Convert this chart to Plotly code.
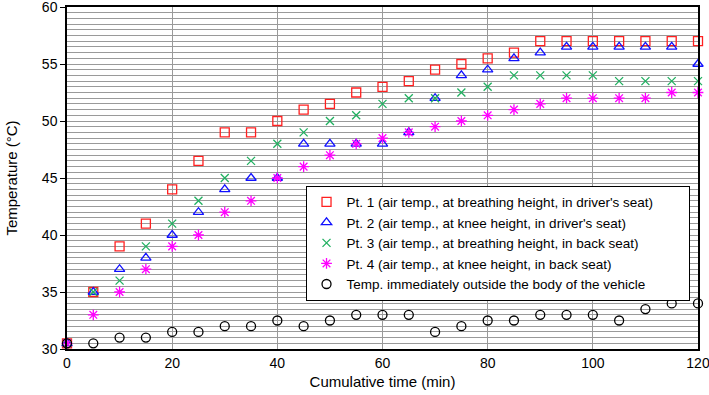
import plotly.graph_objects as go

time_min = [0, 5, 10, 15, 20, 25, 30, 35, 40, 45, 50, 55, 60, 65, 70, 75, 80, 85, 90, 95, 100, 105, 110, 115, 120]

pt1 = [30.5, 35, 39, 41, 44, 46.5, 49, 49, 50, 51, 51.5, 52.5, 53, 53.5, 54.5, 55, 55.5, 56, 57, 57, 57, 57, 57, 57, 57]
pt2 = [30.5, 35, 37, 38, 40, 42, 44, 45, 45, 48, 48, 48, 48, 49, 52, 54, 54.5, 55.5, 56, 56.5, 56.5, 56.5, 56.5, 56.5, 55]
pt3 = [30.5, 35, 36, 39, 41, 43, 45, 46.5, 48, 49, 50, 50.5, 51.5, 52, 52, 52.5, 53, 54, 54, 54, 54, 53.5, 53.5, 53.5, 53.5]
pt4 = [30.5, 33, 35, 37, 39, 40, 42, 43, 45, 46, 47, 48, 48.5, 49, 49.5, 50, 50.5, 51, 51.5, 52, 52, 52, 52, 52.5, 52.5]
outside = [30.5, 30.5, 31, 31, 31.5, 31.5, 32, 32, 32.5, 32, 32.5, 33, 33, 33, 31.5, 32, 32.5, 32.5, 33, 33, 33, 32.5, 33.5, 34, 34]

names = [
    "Pt. 1 (air temp., at breathing height, in driver's seat)" + "\u00a0" * 8,
    "Pt. 2 (air temp., at knee height, in driver's seat)",
    "Pt. 3 (air temp., at breathing height, in back seat)",
    "Pt. 4 (air temp., at knee height, in back seat)",
    "Temp. immediately outside the body of the vehicle",
]

x_ticks = [0, 20, 40, 60, 80, 100, 120]
y_ticks = [30, 35, 40, 45, 50, 55, 60]

series = [pt1, pt2, pt3, pt4, outside]
symbols = ["square-open", "triangle-up-open", "x-thin-open", "asterisk-open", "circle-open"]
colors = ["#FF2020", "#1010FF", "#20B060", "#FF00FF", "#000000"]
sizes = [9, 9, 8, 9, 9]

fig = go.Figure()
for vals, nm, sym, col, sz in zip(series, names, symbols, colors, sizes):
    fig.add_trace(go.Scatter(
        x=time_min, y=vals, mode="markers", name=nm,
        marker=dict(symbol=sym, size=sz, color=col, line=dict(color=col, width=1.3)),
        cliponaxis=False,
    ))

font = "Liberation Sans, Arial, sans-serif"
fig.update_layout(
    width=709, height=395,
    margin=dict(l=67, r=11, t=7, b=46, autoexpand=False),
    paper_bgcolor="white", plot_bgcolor="white",
    font=dict(family=font, size=14, color="black"),
    showlegend=True,
    legend=dict(
        x=0.378, y=0.478, xanchor="left", yanchor="top",
        bordercolor="black", borderwidth=1, bgcolor="white",
        font=dict(size=13.5, family=font),
        itemwidth=30, tracegroupgap=0,
    ),
    xaxis=dict(
        range=[0, 120], tickvals=x_ticks, ticktext=[str(v) for v in x_ticks],
        showgrid=True, gridcolor="#9a9a9a", gridwidth=1.4,
        showline=True, linecolor="black", linewidth=1.5, mirror=True,
        ticks="", zeroline=False, automargin=False, ticklabeloverflow="allow",
        title=dict(text="Cumulative time (min)", standoff=7, font=dict(size=15)),
    ),
    yaxis=dict(
        range=[30, 60], tickvals=y_ticks, ticktext=[str(v) for v in y_ticks],
        showgrid=True, gridcolor="#9a9a9a", gridwidth=1.4,
        showline=True, linecolor="black", linewidth=1.5, mirror=True,
        ticks="outside", ticklen=5, tickcolor="black", zeroline=False,
        automargin=False, ticklabeloverflow="allow",
        minor=dict(dtick=0.5, showgrid=True, gridcolor="#9a9a9a", gridwidth=1.4),
        title=dict(text="Temperature (°C)", standoff=21, font=dict(size=15)),
    ),
)

fig.write_html("out.html", config={"displayModeBar": False},
               post_script="document.body.style.margin='0';")
